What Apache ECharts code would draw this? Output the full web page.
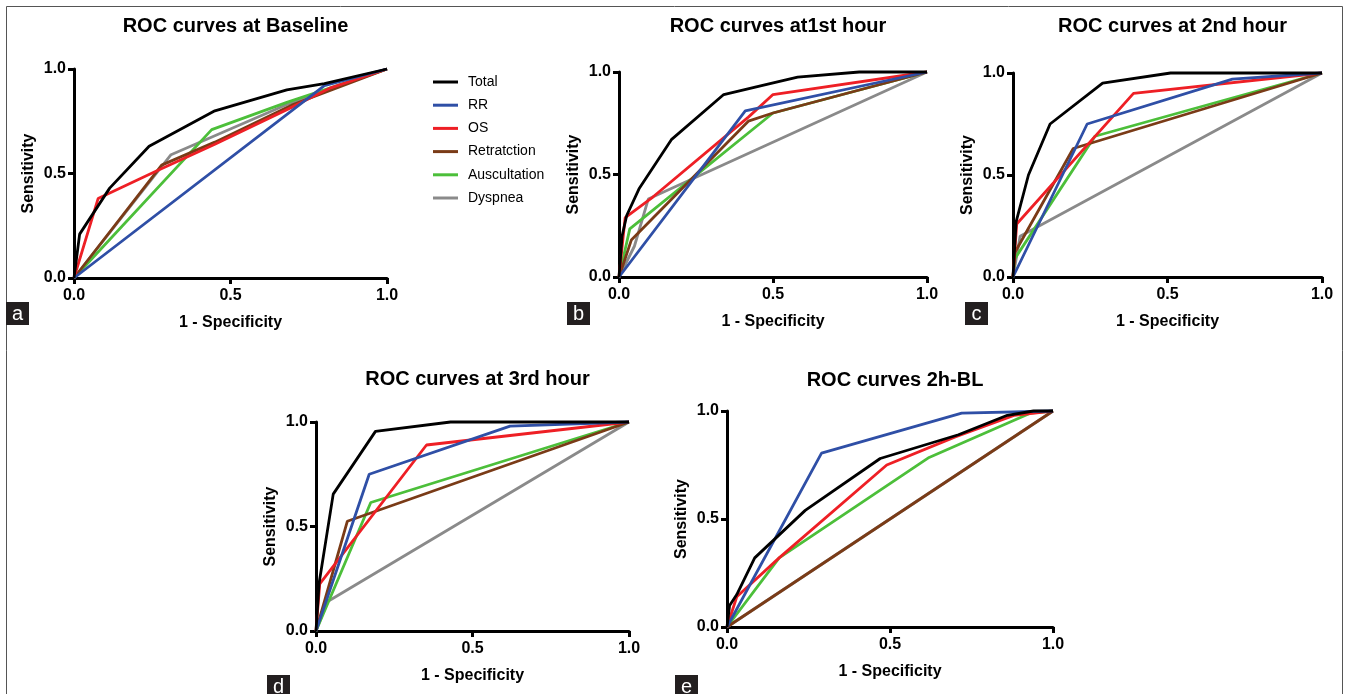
<!DOCTYPE html>
<html>
<head>
<meta charset="utf-8">
<script src="https://cdn.jsdelivr.net/npm/echarts@6/dist/echarts.min.js"></script>
<style>
html,body{margin:0;padding:0;background:#fff;}
#c{width:1346px;height:694px;}
</style>
</head>
<body>
<div id="c"></div>
<script>
// ---- Data ----
const seriesNames = ['Total', 'RR', 'OS', 'Retratction', 'Auscultation', 'Dyspnea'];
const panelTitles = ['ROC curves at Baseline', 'ROC curves at1st hour', 'ROC curves at 2nd hour', 'ROC curves at 3rd hour', 'ROC curves 2h-BL'];
const panelLetters = ['a', 'b', 'c', 'd', 'e'];
const tickValues = [0, 0.5, 1.0];

// Panel a: Baseline
const baseTotal = [[0,0],[0.018,0.21],[0.114,0.43],[0.24,0.63],[0.45,0.80],[0.68,0.90],[0.80,0.93],[1,1]];
const baseRR = [[0,0],[0.80,0.92],[1,1]];
const baseOS = [[0,0],[0.077,0.38],[0.26,0.51],[0.45,0.64],[0.70,0.82],[0.82,0.91],[1,1]];
const baseRetr = [[0,0],[0.28,0.54],[0.45,0.65],[0.70,0.83],[1,1]];
const baseAusc = [[0,0],[0.44,0.71],[0.68,0.84],[1,1]];
const baseDysp = [[0,0],[0.31,0.59],[0.68,0.83],[1,1]];

// Panel b: 1st hour
const h1Total = [[0,0],[0.01,0.2],[0.025,0.3],[0.065,0.43],[0.17,0.67],[0.34,0.89],[0.48,0.94],[0.58,0.975],[0.78,1],[1,1]];
const h1RR = [[0,0],[0.41,0.81],[1,1]];
const h1OS = [[0,0],[0.02,0.29],[0.11,0.39],[0.42,0.78],[0.50,0.89],[1,1]];
const h1Retr = [[0,0],[0.04,0.18],[0.42,0.76],[0.50,0.80],[1,1]];
const h1Ausc = [[0,0],[0.035,0.235],[0.50,0.80],[1,1]];
const h1Dysp = [[0,0],[0.05,0.15],[0.095,0.38],[1,1]];

// Panel c: 2nd hour
const h2Total = [[0,0],[0.01,0.27],[0.05,0.5],[0.12,0.75],[0.29,0.95],[0.51,1],[1,1]];
const h2RR = [[0,0],[0.24,0.75],[0.71,0.97],[1,1]];
const h2OS = [[0,0],[0.012,0.26],[0.39,0.90],[1,1]];
const h2Retr = [[0,0],[0.006,0.12],[0.195,0.63],[1,1]];
const h2Ausc = [[0,0],[0.006,0.09],[0.265,0.69],[1,1]];
const h2Dysp = [[0,0],[0.023,0.2],[1,1]];

// Panel d: 3rd hour
const h3Total = [[0,0],[0.01,0.23],[0.055,0.655],[0.19,0.955],[0.43,1],[1,1]];
const h3RR = [[0,0],[0.17,0.75],[0.62,0.98],[1,1]];
const h3OS = [[0,0],[0.012,0.225],[0.353,0.89],[1,1]];
const h3Retr = [[0,0],[0.10,0.525],[1,1]];
const h3Ausc = [[0,0],[0.175,0.615],[1,1]];
const h3Dysp = [[0,0],[0.036,0.14],[1,1]];

// Panel e: 2h-BL
const dTotal = [[0,0],[0.008,0.10],[0.03,0.15],[0.085,0.32],[0.24,0.54],[0.47,0.78],[0.71,0.89],[0.86,0.98],[0.94,1],[1,1]];
const dRR = [[0,0],[0.29,0.805],[0.72,0.99],[1,1]];
const dOS = [[0,0],[0.03,0.14],[0.16,0.32],[0.49,0.75],[0.70,0.88],[0.88,0.98],[1,1]];
const dRetr = [[0,0],[1,1]];
const dAusc = [[0,0],[0.16,0.32],[0.62,0.785],[0.93,0.99],[1,1]];
const dDysp = [[0,0],[1,1]];

const panelData = [
  [baseTotal, baseRR, baseOS, baseRetr, baseAusc, baseDysp],
  [h1Total, h1RR, h1OS, h1Retr, h1Ausc, h1Dysp],
  [h2Total, h2RR, h2OS, h2Retr, h2Ausc, h2Dysp],
  [h3Total, h3RR, h3OS, h3Retr, h3Ausc, h3Dysp],
  [dTotal, dRR, dOS, dRetr, dAusc, dDysp]
];

// ---- Layout / style ----
const colors = ['#000000', '#2f4fa6', '#ee1f25', '#7a3b17', '#4cbf3a', '#8a8a8a'];
const FONT = 'Liberation Sans, Arial, Helvetica, sans-serif';
const grids = [
  {left: 74, top: 69, width: 313, height: 209},
  {left: 619, top: 72, width: 308, height: 205},
  {left: 1013, top: 73, width: 309, height: 204},
  {left: 316, top: 422, width: 313, height: 209},
  {left: 727, top: 411, width: 326, height: 216}
];
const titleTops = [11, 11, 11, 364, 365];
const letterBoxes = [[6,302],[567,302],[965,302],[267,675],[675,675]];

const axisCommon = {
  type: 'value', min: 0, max: 1, interval: 0.5,
  axisLine: {show: true, lineStyle: {color: '#000', width: 3}},
  axisTick: {show: true, length: 6, lineStyle: {color: '#000', width: 3}},
  splitLine: {show: false},
  axisLabel: {color: '#000', fontWeight: 'bold', fontSize: 16, fontFamily: FONT,
    formatter: v => v.toFixed(1)},
  nameLocation: 'middle',
  nameTextStyle: {color: '#000', fontWeight: 'bold', fontSize: 16, fontFamily: FONT}
};

const option = {
  animation: false,
  backgroundColor: '#fff',
  title: panelTitles.map((t, i) => ({
    text: t,
    left: grids[i].left + grids[i].width / 2,
    top: titleTops[i],
    textAlign: 'center',
    textStyle: {color: '#000', fontWeight: 'bold', fontSize: 20, fontFamily: FONT}
  })),
  legend: {
    data: seriesNames,
    orient: 'vertical',
    left: 433, top: 74, padding: 0,
    itemWidth: 25, itemHeight: 3, itemGap: 7.2,
    icon: 'rect',
    textStyle: {color: '#000', fontSize: 14, fontFamily: FONT, lineHeight: 16, padding: [0,0,0,5]},
    selectedMode: false
  },
  grid: grids.map(g => Object.assign({containLabel: false}, g)),
  xAxis: grids.map((g, i) => Object.assign({}, axisCommon, {
    gridIndex: i, name: '1 - Specificity', nameGap: 37,
    axisLabel: Object.assign({}, axisCommon.axisLabel, {margin: 10})
  })),
  yAxis: grids.map((g, i) => Object.assign({}, axisCommon, {
    gridIndex: i, name: 'Sensitivity', nameGap: 37,
    axisLabel: Object.assign({}, axisCommon.axisLabel, {margin: 8})
  })),
  series: [],
  graphic: [
    {type: 'rect', shape: {x: 6.5, y: 6.5, width: 1336, height: 720},
     style: {fill: 'none', stroke: '#555', lineWidth: 1}, silent: true, z: -1}
  ]
};

// draw order: Dyspnea first (bottom) ... Total last (top)
for (let p = 0; p < 5; p++) {
  for (let s = 5; s >= 0; s--) {
    option.series.push({
      type: 'line', name: seriesNames[s], xAxisIndex: p, yAxisIndex: p,
      data: panelData[p][s], symbol: 'none', showSymbol: false,
      lineStyle: {color: colors[s], width: 2.8},
      itemStyle: {color: colors[s]},
      clip: false
    });
  }
}

letterBoxes.forEach((b, i) => {
  option.graphic.push({
    type: 'group', left: b[0], top: b[1], silent: true,
    children: [
      {type: 'rect', shape: {x: 0, y: 0, width: 23, height: 23}, style: {fill: '#231f20'}},
      {type: 'text', x: 11.5, y: 12, style: {text: panelLetters[i], fill: '#fff', fontSize: 20,
        fontFamily: FONT, textAlign: 'center', textVerticalAlign: 'middle'}}
    ]
  });
});

const chart = echarts.init(document.getElementById('c'), null, {renderer: 'canvas'});
chart.setOption(option);
</script>
</body>
</html>
